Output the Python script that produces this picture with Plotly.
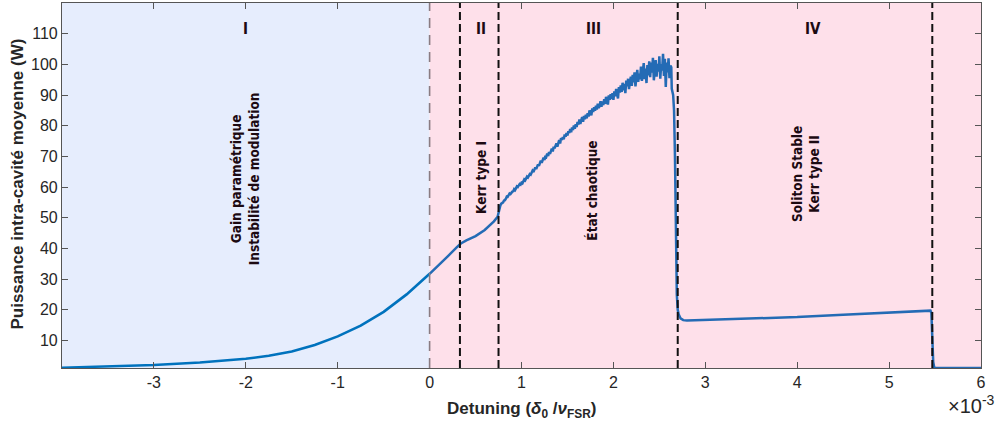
import plotly.graph_objects as go

# ---- data (detuning in units of 1e-3, power in W) ----
x_smooth = [-4.0, -3.5, -3.0, -2.5, -2.0, -1.75, -1.5, -1.25, -1.0, -0.75, -0.5, -0.25,
            0.0, 0.1, 0.2, 0.3, 0.34, 0.4, 0.5, 0.6, 0.7, 0.74, 0.75]
p_smooth = [1.1, 1.5, 2.0, 2.8, 4.0, 5.0, 6.4, 8.5, 11.3, 14.8, 19.3, 25.0,
            31.7, 34.5, 37.5, 40.5, 41.6, 42.6, 44.0, 46.0, 48.8, 50.3, 51.5]

# chaotic regime, sampled every 0.01 from 0.76 to 2.62
p_chaos = [53.5, 54.0, 54.6, 54.7,
           55.0, 55.6, 55.7, 56.2, 56.9, 56.8, 57.3, 57.9, 57.7, 58.2,
           58.5, 58.6, 59.3, 59.0, 59.6, 60.2, 60.0, 60.5, 61.0, 60.8,
           61.4, 61.2, 61.9, 62.5, 62.2, 62.9, 63.4, 63.1, 63.8, 64.2,
           64.0, 64.8, 65.3, 64.9, 65.8, 66.4, 65.9, 66.8, 67.4, 66.9,
           67.8, 68.6, 67.9, 69.0, 69.6, 68.8, 70.2, 69.9, 70.9, 70.1,
           71.4, 70.8, 72.0, 72.5, 71.6, 73.1, 72.6, 73.8, 74.2, 73.2,
           74.6, 75.3, 74.2, 75.9, 75.4, 76.3, 75.6, 77.1, 76.4, 77.6,
           76.8, 78.2, 77.6, 78.9, 77.9, 79.4, 78.6, 80.1, 79.0, 80.5,
           79.6, 81.2, 80.4, 82.0, 80.6, 81.5, 82.8, 81.3, 83.2, 82.1,
           83.6, 82.4, 84.1, 83.0, 85.0, 84.2, 83.4, 85.6, 84.5, 86.0,
           84.9, 86.5, 85.3, 87.2, 85.8, 86.4, 88.0, 86.2, 87.9, 86.7,
           88.6, 87.1, 89.4, 88.0, 86.9, 89.9, 88.4, 90.3, 88.7, 90.6,
           88.4, 91.2, 89.6, 92.0, 90.1, 88.9, 92.6, 90.8, 93.1, 91.0,
           94.0, 91.5, 93.6, 90.6, 94.7, 92.8, 95.3, 91.9, 94.4, 96.0,
           93.0, 96.6, 94.1, 97.4, 92.8, 96.0, 98.2, 94.3, 97.0, 95.1,
           99.3, 94.6, 97.9, 100.4, 95.2, 98.6, 93.9, 99.8, 96.4, 101.0,
           95.8, 100.6, 97.3, 102.1, 94.8, 99.5, 101.4, 96.0, 100.2, 97.6,
           102.6, 95.3, 100.1, 98.0, 103.4, 96.2, 101.8, 92.6, 100.6, 97.4,
           102.0, 95.5, 99.6]
x_chaos = [round(0.76 + 0.01 * i, 2) for i in range(len(p_chaos))]

x_tail = [2.63, 2.635, 2.65, 2.66, 2.67, 2.68, 2.69, 2.70, 2.71, 2.73, 2.76, 2.8,
          3.0, 3.5, 4.0, 4.5, 5.0, 5.45, 5.46, 5.47, 5.48, 5.49, 5.5, 6.0]
p_tail = [99.0, 92.0, 90.0, 85.0, 70.0, 45.0, 25.0, 20.0, 18.5, 17.2, 16.6, 16.5,
          16.7, 17.1, 17.6, 18.4, 19.1, 19.7, 19.0, 10.0, 3.0, 1.3, 1.1, 1.0]

boundaries = [0.33, 0.75, 2.7, 5.47]
region_labels = ["I", "II", "III", "IV"]
region_label_x = [-2.0, 0.554, 1.78, 4.17]
region_texts = ["Gain paramétrique<br>Instabilité de modulation",
                "Kerr type I",
                "État chaotique",
                "Soliton Stable<br>Kerr type II"]
region_text_x = [-2.0, 0.554, 1.77, 4.09]
region_text_y = [62.8, 63.1, 58.9, 64.4]

x_ticks = [-3, -2, -1, 0, 1, 2, 3, 4, 5, 6]
y_ticks = [10, 20, 30, 40, 50, 60, 70, 80, 90, 100, 110]

X_RANGE = [-4, 6]
Y_RANGE = [1, 120]

# ---- figure ----
fig = go.Figure()

xs = x_smooth + x_chaos + x_tail
ps = p_smooth + p_chaos + p_tail
x_neg = [x for x in xs if x <= 0]
p_neg = [p for x, p in zip(xs, ps) if x <= 0]
x_pos = [x for x in xs if x >= 0]
p_pos = [p for x, p in zip(xs, ps) if x >= 0]

fig.add_trace(go.Scatter(x=x_neg, y=p_neg, mode="lines",
                         line=dict(color="#0072BD", width=2.6), hoverinfo="skip"))
fig.add_trace(go.Scatter(x=x_pos, y=p_pos, mode="lines",
                         line=dict(color="#246bb5", width=2.5), hoverinfo="skip"))

shapes = [
    dict(type="rect", xref="x", yref="y", x0=X_RANGE[0], x1=0, y0=Y_RANGE[0], y1=Y_RANGE[1],
         fillcolor="#E6EDFD", line=dict(width=0), layer="below"),
    dict(type="rect", xref="x", yref="y", x0=0, x1=X_RANGE[1], y0=Y_RANGE[0], y1=Y_RANGE[1],
         fillcolor="#FEE0EA", line=dict(width=0), layer="below"),
    dict(type="line", xref="x", yref="y", x0=0, x1=0, y0=Y_RANGE[0], y1=Y_RANGE[1],
         line=dict(color="#8a7c82", width=1.6, dash="10px,7px"), layer="above"),
]
for b in boundaries:
    shapes.append(dict(type="line", xref="x", yref="y", x0=b, x1=b, y0=Y_RANGE[0], y1=Y_RANGE[1],
                       line=dict(color="#111111", width=2, dash="8px,4px"), layer="above"))

ann_font = dict(family="Liberation Sans Narrow, DejaVu Sans Condensed, Arial Narrow, sans-serif",
                size=13.5, color="#1c0a12")
title_font = dict(family="Liberation Sans, Arial, sans-serif", size=17, color="#262626")
annotations = []
for lab, lx in zip(region_labels, region_label_x):
    annotations.append(dict(x=lx, y=111.6, xref="x", yref="y", text="<b>" + lab + "</b>",
                            showarrow=False, font=dict(ann_font, size=15),
                            xanchor="center", yanchor="middle"))
for t, tx, ty in zip(region_texts, region_text_x, region_text_y):
    annotations.append(dict(x=tx, y=ty, xref="x", yref="y", text="<b>" + t + "</b>",
                            showarrow=False, font=ann_font, textangle=-90,
                            xanchor="center", yanchor="middle"))
# axis titles
annotations.append(dict(x=0.5, y=-0.115, xref="paper", yref="paper",
                        text="<b>Detuning (<i>δ</i><sub>0</sub> /<i>ν</i><sub>FSR</sub>)</b>",
                        showarrow=False, font=title_font,
                        xanchor="center", yanchor="middle"))
annotations.append(dict(x=-0.048, y=0.505, xref="paper", yref="paper",
                        text="<b>Puissance intra-cavité moyenne (W)</b>",
                        showarrow=False, font=title_font, textangle=-90,
                        xanchor="center", yanchor="middle"))
# exponent
annotations.append(dict(x=0.962, y=-0.14, xref="paper", yref="paper",
                        text="×10<sup>-3</sup>", showarrow=False,
                        font=dict(family="Liberation Sans, Arial, sans-serif", size=20, color="#262626"),
                        xanchor="left", yanchor="bottom"))

axis_common = dict(showline=True, linecolor="#555555", linewidth=1.2, mirror="ticks",
                   ticks="inside", ticklen=6, tickwidth=1, tickcolor="#555555",
                   showgrid=False, zeroline=False, automargin=False,
                   tickfont=dict(family="Liberation Sans, Arial, sans-serif", size=16, color="#262626"))

fig.update_layout(
    width=1007, height=428,
    margin=dict(l=62, r=26, t=3, b=60),
    paper_bgcolor="white", plot_bgcolor="white",
    showlegend=False,
    shapes=shapes, annotations=annotations,
    xaxis=dict(range=X_RANGE, tickvals=x_ticks, ticktext=[str(v) for v in x_ticks],
               **axis_common),
    yaxis=dict(range=Y_RANGE, tickvals=y_ticks, ticktext=[str(v) for v in y_ticks],
               **axis_common),
)

fig.write_html("out.html", config={"displayModeBar": False},
               post_script="document.body.style.margin='0';")
